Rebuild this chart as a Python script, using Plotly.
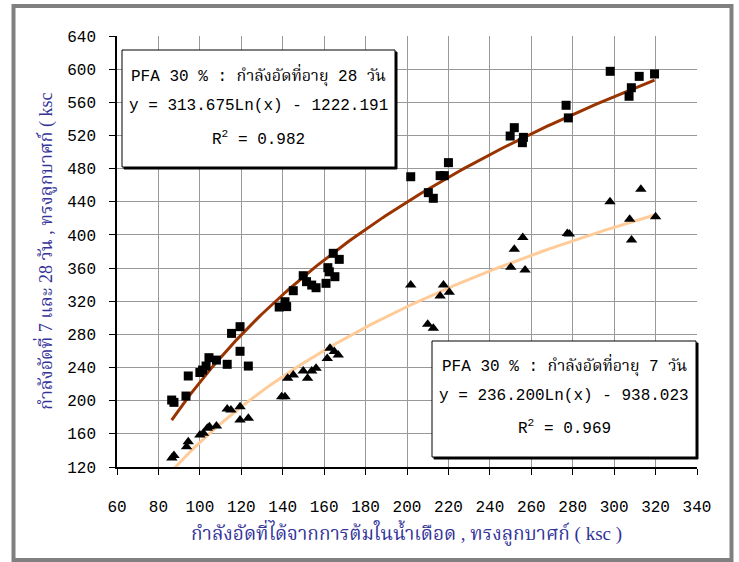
import numpy as np
import plotly.graph_objects as go

# ---- data ----
x28 = [86.4, 87.5, 93.3, 94.4, 100.0, 101.3, 103.0, 104.4, 108.0, 113.2, 115.3, 119.4, 119.4, 123.4,
       138.3, 141.9, 141.1, 145.1, 149.9, 151.5, 154.0, 156.1, 160.9, 161.8, 162.5, 165.2, 164.4, 167.3,
       201.8, 210.3, 212.7, 216.0, 218.0, 220.0,
       249.8, 251.8, 256.2, 255.7, 276.8, 277.9,
       298.1, 307.2, 308.3, 312.1, 319.5]
y28 = [200.8, 198.0, 205.6, 229.8, 234.0, 237.0, 241.8, 251.9, 249.0, 243.9, 281.2, 289.3, 259.6, 241.8,
       313.0, 313.5, 319.4, 332.7, 350.8, 343.6, 339.5, 336.3, 341.6, 360.5, 355.5, 349.6, 377.8, 370.5,
       470.2, 451.0, 444.2, 471.5, 471.5, 487.2,
       519.3, 529.4, 517.7, 511.3, 556.4, 541.2,
       597.4, 567.3, 577.6, 591.3, 594.2]

x7 = [86.5, 87.5, 93.6, 94.4, 100.0, 101.7, 103.6, 104.6, 108.0, 113.2, 115.0, 119.4, 119.4, 123.4,
      139.5, 141.1, 142.4, 145.1, 149.9, 152.0, 154.0, 156.1, 161.5, 162.8, 164.9, 166.8,
      201.8, 210.0, 212.7, 216.0, 217.6, 220.4,
      250.1, 251.8, 255.9, 257.0, 277.4, 278.4,
      298.0, 307.5, 308.4, 312.9, 320.0]
y7 = [131.0, 134.0, 144.5, 150.5, 158.6, 160.6, 166.7, 168.6, 169.5, 190.0, 188.8, 192.7, 176.7, 178.7,
      204.8, 204.8, 227.0, 231.0, 235.8, 227.0, 235.8, 239.0, 251.0, 263.2, 259.2, 255.0,
      339.5, 292.3, 287.5, 326.3, 339.5, 330.7,
      360.9, 382.6, 397.0, 357.6, 401.8, 401.0,
      440.0, 419.0, 394.0, 455.0, 422.0]

# trend equations printed on the chart: y = a*Ln(x) + b
fit28 = [313.675, -1222.191]
fit7 = [236.200, -938.023]
fit_range = [86.4, 319.5]

x_ticks = list(range(60, 341, 20))
y_ticks = list(range(120, 641, 40))

label28 = ["PFA 30 % : กำลังอัดที่อายุ 28 วัน", "y = 313.675Ln(x) - 1222.191", "R<sup>2</sup> = 0.982"]
label7 = ["PFA 30 % : กำลังอัดที่อายุ 7 วัน", "y = 236.200Ln(x) - 938.023", "R<sup>2</sup> = 0.969"]
x_title = "กำลังอัดที่ได้จากการต้มในน้ำเดือด , ทรงลูกบาศก์ ( ksc )"
y_title = "กำลังอัดที่ 7 และ 28 วัน , ทรงลูกบาศก์ ( ksc"

# ---- figure ----
W, H = 739, 562
L, R, T, B = 117, 697, 36, 467
MONO = "Liberation Mono, Courier New, monospace"
THAI = "Liberation Serif, Noto Serif Thai, Noto Sans Thai, serif"
BOXFONT = "Liberation Mono, Noto Serif Thai, Noto Sans Thai, monospace"

def px(xp):
    return (xp - L) / (R - L)

def py(yp):
    return (B - yp) / (B - T)

xs = np.linspace(fit_range[0], fit_range[1], 200)
fig = go.Figure()
fig.add_trace(go.Scatter(x=xs, y=fit28[0] * np.log(xs) + fit28[1], mode="lines",
                         line=dict(color="#993300", width=3), hoverinfo="skip"))
fig.add_trace(go.Scatter(x=xs, y=fit7[0] * np.log(xs) + fit7[1], mode="lines",
                         line=dict(color="#FFCC99", width=3), hoverinfo="skip"))
fig.add_trace(go.Scatter(x=x28, y=y28, mode="markers",
                         marker=dict(symbol="square", size=9, color="black")))
fig.add_trace(go.Scatter(x=x7, y=y7, mode="markers",
                         marker=dict(symbol="triangle-up", size=10, color="black")))

shapes = []
# outer chart border
shapes.append(dict(type="rect", xref="paper", yref="paper",
                   x0=px(13.5), x1=px(731.5), y0=py(6), y1=py(560),
                   line=dict(color="#808080", width=4), fillcolor="rgba(0,0,0,0)", layer="below"))
annotations = []
for (x0, y0, x1, y1, lines, cx, cys) in [
        (122, 50, 395, 167, label28, 258, [75, 106, 138]),
        (432, 341, 696, 457, label7, 564, [365, 396, 427])]:
    shapes.append(dict(type="rect", xref="paper", yref="paper",
                       x0=px(x0 + 2), x1=px(x1 + 2), y0=py(y0 + 2), y1=py(y1 + 2),
                       line=dict(color="black", width=1), fillcolor="black"))
    shapes.append(dict(type="rect", xref="paper", yref="paper",
                       x0=px(x0), x1=px(x1), y0=py(y0), y1=py(y1),
                       line=dict(color="black", width=1), fillcolor="white"))
    for t, cy in zip(lines, cys):
        annotations.append(dict(text=t, xref="paper", yref="paper", x=px(cx), y=py(cy),
                                xanchor="center", yanchor="middle", showarrow=False,
                                font=dict(family=BOXFONT, size=16, color="black")))

annotations.append(dict(text=x_title, xref="paper", yref="paper", x=px(406), y=py(532),
                        xanchor="center", yanchor="middle", showarrow=False,
                        font=dict(family=THAI, size=19, color="#333399")))
annotations.append(dict(text=y_title, xref="paper", yref="paper", x=px(44), y=py(252),
                        xanchor="center", yanchor="middle", showarrow=False, textangle=-90,
                        font=dict(family=THAI, size=18, color="#333399")))

fig.update_layout(
    width=W, height=H,
    margin=dict(l=L, r=W - R, t=T, b=H - B),
    paper_bgcolor="white", plot_bgcolor="white",
    showlegend=False,
    shapes=shapes, annotations=annotations,
    font=dict(family=MONO, size=15, color="black"),
)
fig.update_xaxes(range=[60, 340], tickvals=x_ticks, showgrid=True, gridcolor="#999999", gridwidth=1,
                 showline=True, linecolor="black", linewidth=1.5, ticks="outside", ticklen=6,
                 tickcolor="black", zeroline=False, ticklabelstandoff=18,
                 tickfont=dict(family=MONO, size=16, color="black"))
fig.update_yaxes(range=[120, 640], tickvals=y_ticks, showgrid=True, gridcolor="#999999", gridwidth=1,
                 showline=True, linecolor="black", linewidth=1.5, ticks="outside", ticklen=6,
                 tickcolor="black", zeroline=False, ticklabelstandoff=10,
                 tickfont=dict(family=MONO, size=16, color="black"))

fig.write_html("out.html", config={"displayModeBar": False},
               post_script="document.body.style.margin='0px';")
